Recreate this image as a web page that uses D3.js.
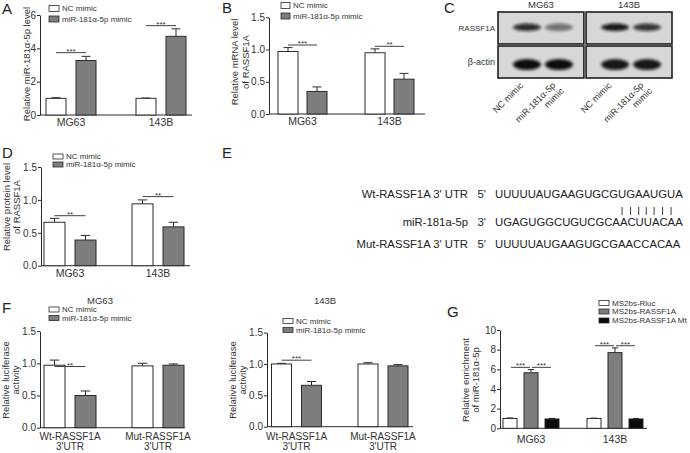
<!DOCTYPE html>
<html><head><meta charset="utf-8">
<script src="https://cdn.jsdelivr.net/npm/d3@7"></script>
<style>
body{margin:0;background:#fff;}
svg{display:block;font-family:"Liberation Sans",Arial,sans-serif;}
</style></head><body>
<svg id="fig" width="690" height="453"></svg>
<script>
// ---------------- data ----------------
const cellLines = ["MG63", "143B"];
const mimicSeries = ["NC mimic", "miR-181α-5p mimic"];

// Panel A: relative miR-181a-5p level
const aTicks = [0, 2, 4, 6];
const aNC = [1.0, 1.0], aNCErr = [0.04, 0.02];
const aMimic = [3.27, 4.72], aMimicErr = [0.25, 0.45];
const aSig = [3.74, 5.36], aSigLabel = ["***", "***"];

// Panel B: relative mRNA level of RASSF1A
const bTicks = [0, 0.5, 1.0, 1.5];
const bNC = [0.97, 0.95], bNCErr = [0.06, 0.06];
const bMimic = [0.35, 0.54], bMimicErr = [0.07, 0.09];
const bSig = [1.07, 1.05], bSigLabel = ["***", "**"];

// Panel C: western blot band intensities (relative darkness)
const blotLanes = ["NC mimic", "miR-181α-5p mimic"];
const blotRows = ["RASSF1A", "β-actin"];
const blotRassf = { "MG63": [0.85, 0.5], "143B": [0.95, 0.8] };
const blotActin = { "MG63": [1.0, 1.0], "143B": [0.95, 0.95] };

// Panel D: relative protein level of RASSF1A
const dTicks = [0, 0.5, 1.0, 1.5];
const dNC = [0.66, 0.94], dNCErr = [0.06, 0.06];
const dMimic = [0.39, 0.59], dMimicErr = [0.07, 0.07];
const dSig = [0.76, 1.05], dSigLabel = ["**", "**"];

// Panel E: sequences
const eLabels = ["Wt-RASSF1A 3' UTR", "miR-181a-5p", "Mut-RASSF1A 3' UTR"];
const ePrimes = ["5'", "3'", "5'"];
const eSeqs = ["UUUUUAUGAAGUGCGUGAAUGUA", "UGAGUGGCUGUCGCAACUUACAA", "UUUUUAUGAAGUGCGAACCACAA"];
const ePairs = [15, 16, 17, 18, 19, 20, 21];

// Panel F: relative luciferase activity
const reporters = ["Wt-RASSF1A\n3'UTR", "Mut-RASSF1A\n3'UTR"];
const fTicks = [0, 0.5, 1.0, 1.5];
const fMgNC = [0.97, 0.96], fMgNCErr = [0.08, 0.04];
const fMgMimic = [0.50, 0.97], fMgMimicErr = [0.07, 0.02];
const fMgSig = [0.95], fMgSigLabel = ["**"];
const f143NC = [1.0, 1.0], f143NCErr = [0.01, 0.02];
const f143Mimic = [0.66, 0.97], f143MimicErr = [0.06, 0.02];
const f143Sig = [1.06], f143SigLabel = ["***"];

// Panel G: relative enrichment of miR-181a-5p
const gSeries = ["MS2bs-Rluc", "MS2bs-RASSF1A", "MS2bs-RASSF1A Mt"];
const gTicks = [0, 2, 4, 6, 8, 10];
const gRluc = [1.0, 1.0], gRlucErr = [0.05, 0.03];
const gRassf = [5.65, 7.7], gRassfErr = [0.33, 0.48];
const gMt = [0.95, 0.95], gMtErr = [0.06, 0.05];
const gSig = [6.2, 8.4], gSigLabel = ["***", "***"];

// ---------------- drawing ----------------
const svg = d3.select("#fig");
const INK = "#2b2b2b", TXT = "#333";
const GRAY = "#7d7d7d";

function panelLabel(t, x, y) {
  svg.append("text").attr("x", x).attr("y", y).attr("font-size", 15)
    .attr("fill", "#222").text(t);
}

function barChart(o) {
  const g = svg.append("g");
  const y = d3.scaleLinear().domain([0, o.yMax]).range([o.yZero, o.yTop]);
  const xg = d3.scalePoint().domain(o.groups).range(o.centers);
  const n = o.series.length;
  const span = n * o.barW + (n - 1) * o.gap;
  const xs = d3.scaleBand().domain(d3.range(n)).range([-span / 2, span / 2])
    .paddingInner(o.gap / (o.barW + o.gap)).paddingOuter(0);
  const bw = xs.bandwidth();

  const ax = g.append("g").attr("transform", `translate(${o.x0},0)`)
    .call(d3.axisLeft(y).tickValues(o.ticks).tickSize(3).tickSizeOuter(0)
      .tickFormat(o.fmt || d3.format("d")));
  ax.select(".domain").attr("stroke", INK);
  ax.selectAll(".tick line").attr("stroke", INK);
  ax.selectAll(".tick text").attr("fill", TXT).attr("font-size", o.tickFs || 10)
    .attr("font-family", "Liberation Sans, Arial, sans-serif").attr("x", -4);
  g.append("line").attr("x1", o.x0).attr("x2", o.xEnd)
    .attr("y1", y(0)).attr("y2", y(0)).attr("stroke", INK).attr("stroke-width", 1);

  o.series.forEach((s, si) => {
    o.groups.forEach((grp, gi) => {
      const x = xg(grp) + xs(si);
      const v = s.values[gi], e = s.errs[gi];
      const cx = x + bw / 2;
      const cap = bw * 0.45;
      g.append("line").attr("x1", cx).attr("x2", cx).attr("y1", y(v)).attr("y2", y(v + e))
        .attr("stroke", INK).attr("stroke-width", 1);
      g.append("line").attr("x1", cx - cap / 2).attr("x2", cx + cap / 2)
        .attr("y1", y(v + e)).attr("y2", y(v + e)).attr("stroke", INK).attr("stroke-width", 1);
      g.append("rect").attr("x", x).attr("y", y(v)).attr("width", bw)
        .attr("height", y(0) - y(v)).attr("fill", s.fill).attr("stroke", INK)
        .attr("stroke-width", 1);
    });
  });

  (o.sig || []).forEach(sg => {
    const gx = xg(o.groups[sg.gi]);
    const x1 = gx + xs(sg.a) + bw / 2 + (sg.inset || 0);
    const x2 = gx + xs(sg.b) + bw / 2 - (sg.inset || 0);
    g.append("line").attr("x1", x1).attr("x2", x2).attr("y1", y(sg.v)).attr("y2", y(sg.v))
      .attr("stroke", INK).attr("stroke-width", 0.9);
    g.append("text").attr("x", (x1 + x2) / 2).attr("y", y(sg.v) + 1)
      .attr("text-anchor", "middle").attr("font-size", 8).attr("fill", TXT).text(sg.label);
  });

  o.groups.forEach(grp => {
    const lines = grp.split("\n");
    const t = g.append("text").attr("x", xg(grp)).attr("y", o.catY)
      .attr("text-anchor", "middle").attr("font-size", o.catFs || 10.5).attr("fill", TXT);
    lines.forEach((ln, i) => t.append("tspan").attr("x", xg(grp))
      .attr("dy", i === 0 ? 0 : (o.catFs || 10.5) * 1.0).text(ln));
  });

  const yl = g.append("text").attr("transform", `translate(${o.ylX},${o.ylY}) rotate(-90)`)
    .attr("text-anchor", "middle").attr("font-size", o.ylFs || 9.5).attr("fill", TXT);
  o.ylabel.forEach((ln, i) => yl.append("tspan").attr("x", 0)
    .attr("dy", i === 0 ? 0 : o.ylGap).text(ln));

  if (o.legend) {
    const L = o.legend;
    o.series.forEach((s, si) => {
      g.append("rect").attr("x", L.x).attr("y", L.ys[si] - L.h / 2).attr("width", L.w)
        .attr("height", L.h).attr("fill", s.fill).attr("stroke", INK).attr("stroke-width", 0.8);
      g.append("text").attr("x", L.x + L.w + 3).attr("y", L.ys[si] + L.fs * 0.36)
        .attr("font-size", L.fs).attr("fill", TXT).text(s.name);
    });
  }
  if (o.title) {
    g.append("text").attr("x", o.title.x).attr("y", o.title.y).attr("text-anchor", "middle")
      .attr("font-size", 9.5).attr("fill", TXT).text(o.title.text);
  }
  return g;
}

const f1 = d3.format(".1f");

// ----- A -----
panelLabel("A", 2, 14);
barChart({
  x0: 40, xEnd: 192, yZero: 115, yTop: 15, yMax: 6, ticks: aTicks,
  groups: cellLines, centers: [71, 161], barW: 20, gap: 10,
  series: [
    { name: mimicSeries[0], values: aNC, errs: aNCErr, fill: "#fff" },
    { name: mimicSeries[1], values: aMimic, errs: aMimicErr, fill: GRAY }],
  sig: aSig.map((v, i) => ({ gi: i, a: 0, b: 1, v, label: aSigLabel[i] })),
  catY: 126, ylabel: ["Relative miR-181α-5p level"], ylX: 30, ylY: 64, ylGap: 10,
  legend: { x: 49, ys: [8.5, 19], w: 10, h: 6, fs: 8 }
});

// ----- B -----
panelLabel("B", 222, 13);
barChart({
  x0: 269, xEnd: 425, yZero: 114, yTop: 17.3, yMax: 1.5, ticks: bTicks, fmt: f1,
  groups: cellLines, centers: [302.5, 389.5], barW: 20, gap: 9,
  series: [
    { name: mimicSeries[0], values: bNC, errs: bNCErr, fill: "#fff" },
    { name: mimicSeries[1], values: bMimic, errs: bMimicErr, fill: GRAY }],
  sig: bSig.map((v, i) => ({ gi: i, a: 0, b: 1, v, label: bSigLabel[i] })),
  catY: 125, ylabel: ["Relative mRNA level", "of RASSF1A"], ylX: 238, ylY: 62, ylGap: 11,
  legend: { x: 281, ys: [5.5, 16], w: 9, h: 6, fs: 8 }
});

// ----- C (western blot) -----
panelLabel("C", 444, 13);
(function () {
  const g = svg.append("g");
  const defs = svg.append("defs");
  defs.append("filter").attr("id", "blur").attr("x", "-30%").attr("y", "-60%")
    .attr("width", "160%").attr("height", "220%")
    .append("feGaussianBlur").attr("stdDeviation", 1.6);
  const boxX = d3.scaleBand().domain(cellLines).range([498, 672]).paddingInner(0.025);
  const rowY = d3.scaleBand().domain(blotRows).range([12, 78]).paddingInner(0.06);
  const bandH = { "RASSF1A": 7.5, "β-actin": 11 };
  const bandYoff = { "RASSF1A": 0.48, "β-actin": 0.58 };
  cellLines.forEach(cl => {
    const bx = boxX(cl), bwid = boxX.bandwidth();
    const lane = d3.scalePoint().domain(blotLanes).range([bx + 29, bx + 61]);
    g.append("text").attr("x", bx + bwid / 2).attr("y", 8).attr("text-anchor", "middle")
      .attr("font-size", 9.5).attr("fill", TXT).text(cl);
    blotRows.forEach(r => {
      const by = rowY(r), bh = rowY.bandwidth();
      g.append("rect").attr("x", bx).attr("y", by).attr("width", bwid).attr("height", bh)
        .attr("fill", "#d7d7d7").attr("stroke", "#1e1e1e").attr("stroke-width", 1.6);
      const vals = r === "RASSF1A" ? blotRassf[cl] : blotActin[cl];
      blotLanes.forEach((ln, li) => {
        g.append("ellipse").attr("cx", lane(ln)).attr("cy", by + bh * bandYoff[r])
          .attr("rx", 14).attr("ry", bandH[r] / 2)
          .attr("fill", "#0d0d0d").attr("opacity", vals[li]).attr("filter", "url(#blur)");
      });
    });
    blotLanes.forEach(ln => {
      const lx = lane(ln) - 3, ly = 86;
      const t = g.append("text").attr("transform", `translate(${lx},${ly}) rotate(-45)`)
        .attr("text-anchor", "end").attr("font-size", 9).attr("fill", TXT);
      if (ln === "NC mimic") {
        t.text(ln);
      } else {
        t.append("tspan").attr("x", 0).attr("dy", 0).text("miR-181α-5p");
        t.append("tspan").attr("x", 2).attr("dy", 10).text("mimic");
      }
    });
  });
  blotRows.forEach(r => {
    g.append("text").attr("x", 495).attr("y", rowY(r) + rowY.bandwidth() / 2 + 3)
      .attr("text-anchor", "end").attr("font-size", r === "RASSF1A" ? 8 : 9)
      .attr("fill", TXT).text(r);
  });
})();

// ----- D -----
panelLabel("D", 2, 158);
barChart({
  x0: 41, xEnd: 190, yZero: 265.7, yTop: 167, yMax: 1.5, ticks: dTicks, fmt: f1,
  groups: cellLines, centers: [70, 158], barW: 21, gap: 10,
  series: [
    { name: mimicSeries[0], values: dNC, errs: dNCErr, fill: "#fff" },
    { name: mimicSeries[1], values: dMimic, errs: dMimicErr, fill: GRAY }],
  sig: dSig.map((v, i) => ({ gi: i, a: 0, b: 1, v, label: dSigLabel[i] })),
  catY: 277, ylabel: ["Relative protein level", "of RASSF1A"], ylX: 10, ylY: 207, ylGap: 10,
  legend: { x: 53, ys: [156.5, 164.5], w: 10, h: 5, fs: 8 }
});

// ----- E -----
panelLabel("E", 222, 158);
(function () {
  const g = svg.append("g").attr("fill", "#222").attr("font-size", 11.3);
  const rowsY = [198, 226, 248];
  const seqX = 495;
  const seqEls = [];
  eSeqs.forEach((s, i) => {
    const yy = rowsY[i];
    g.append("text").attr("x", seqX - 27).attr("y", yy).attr("text-anchor", "end").text(eLabels[i]);
    g.append("text").attr("x", seqX - 9).attr("y", yy).attr("text-anchor", "end").text(ePrimes[i]);
    seqEls.push(g.append("text").attr("x", seqX).attr("y", yy).text(s));
  });
  const wt = seqEls[0].node();
  ePairs.forEach(idx => {
    const ext = wt.getExtentOfChar(idx);
    const cx = ext.x + ext.width / 2;
    g.append("line").attr("x1", cx).attr("x2", cx).attr("y1", 207).attr("y2", 215)
      .attr("stroke", "#222").attr("stroke-width", 0.9);
  });
})();

// ----- F (MG63) -----
panelLabel("F", 2, 313);
barChart({
  x0: 40, xEnd: 185, yZero: 427.7, yTop: 331.1, yMax: 1.5, ticks: fTicks, fmt: f1,
  groups: reporters, centers: [70, 158], barW: 21, gap: 10,
  series: [
    { name: mimicSeries[0], values: fMgNC, errs: fMgNCErr, fill: "#fff" },
    { name: mimicSeries[1], values: fMgMimic, errs: fMgMimicErr, fill: GRAY }],
  sig: fMgSig.map((v, i) => ({ gi: i, a: 0, b: 1, v, label: fMgSigLabel[i] })),
  catY: 440, catFs: 10, ylabel: ["Relative luciferase", "activity"], ylX: 9, ylY: 380, ylGap: 10,
  legend: { x: 49, ys: [309.5, 318], w: 10, h: 5, fs: 8 },
  title: { text: "MG63", x: 100, y: 304 }
});
// ----- F (143B) -----
barChart({
  x0: 267, xEnd: 413, yZero: 426.7, yTop: 332.6, yMax: 1.5, ticks: fTicks, fmt: f1,
  groups: reporters, centers: [296.5, 383], barW: 20, gap: 10,
  series: [
    { name: mimicSeries[0], values: f143NC, errs: f143NCErr, fill: "#fff" },
    { name: mimicSeries[1], values: f143Mimic, errs: f143MimicErr, fill: GRAY }],
  sig: f143Sig.map((v, i) => ({ gi: i, a: 0, b: 1, v, label: f143SigLabel[i] })),
  catY: 440, catFs: 10, ylabel: ["Relative luciferase", "activity"], ylX: 236, ylY: 380, ylGap: 10,
  legend: { x: 283, ys: [321, 330], w: 10, h: 5, fs: 8 },
  title: { text: "143B", x: 325, y: 304 }
});

// ----- G -----
panelLabel("G", 447, 317);
barChart({
  x0: 500, xEnd: 647, yZero: 428.3, yTop: 330, yMax: 10, ticks: gTicks,
  groups: cellLines, centers: [531, 615], barW: 14, gap: 7,
  series: [
    { name: gSeries[0], values: gRluc, errs: gRlucErr, fill: "#fff" },
    { name: gSeries[1], values: gRassf, errs: gRassfErr, fill: GRAY },
    { name: gSeries[2], values: gMt, errs: gMtErr, fill: "#0a0a0a" }],
  sig: [].concat(...gSig.map((v, i) => [
    { gi: i, a: 0, b: 1, v, label: gSigLabel[i], inset: 1 },
    { gi: i, a: 1, b: 2, v, label: gSigLabel[i], inset: 1 }])),
  catY: 443, ylabel: ["Relative enrichment", "of miR-181α-5p"], ylX: 469, ylY: 380, ylGap: 10,
  legend: { x: 599, ys: [303, 311.5, 320.5], w: 10, h: 5, fs: 8 }
});
</script>
</body></html>
